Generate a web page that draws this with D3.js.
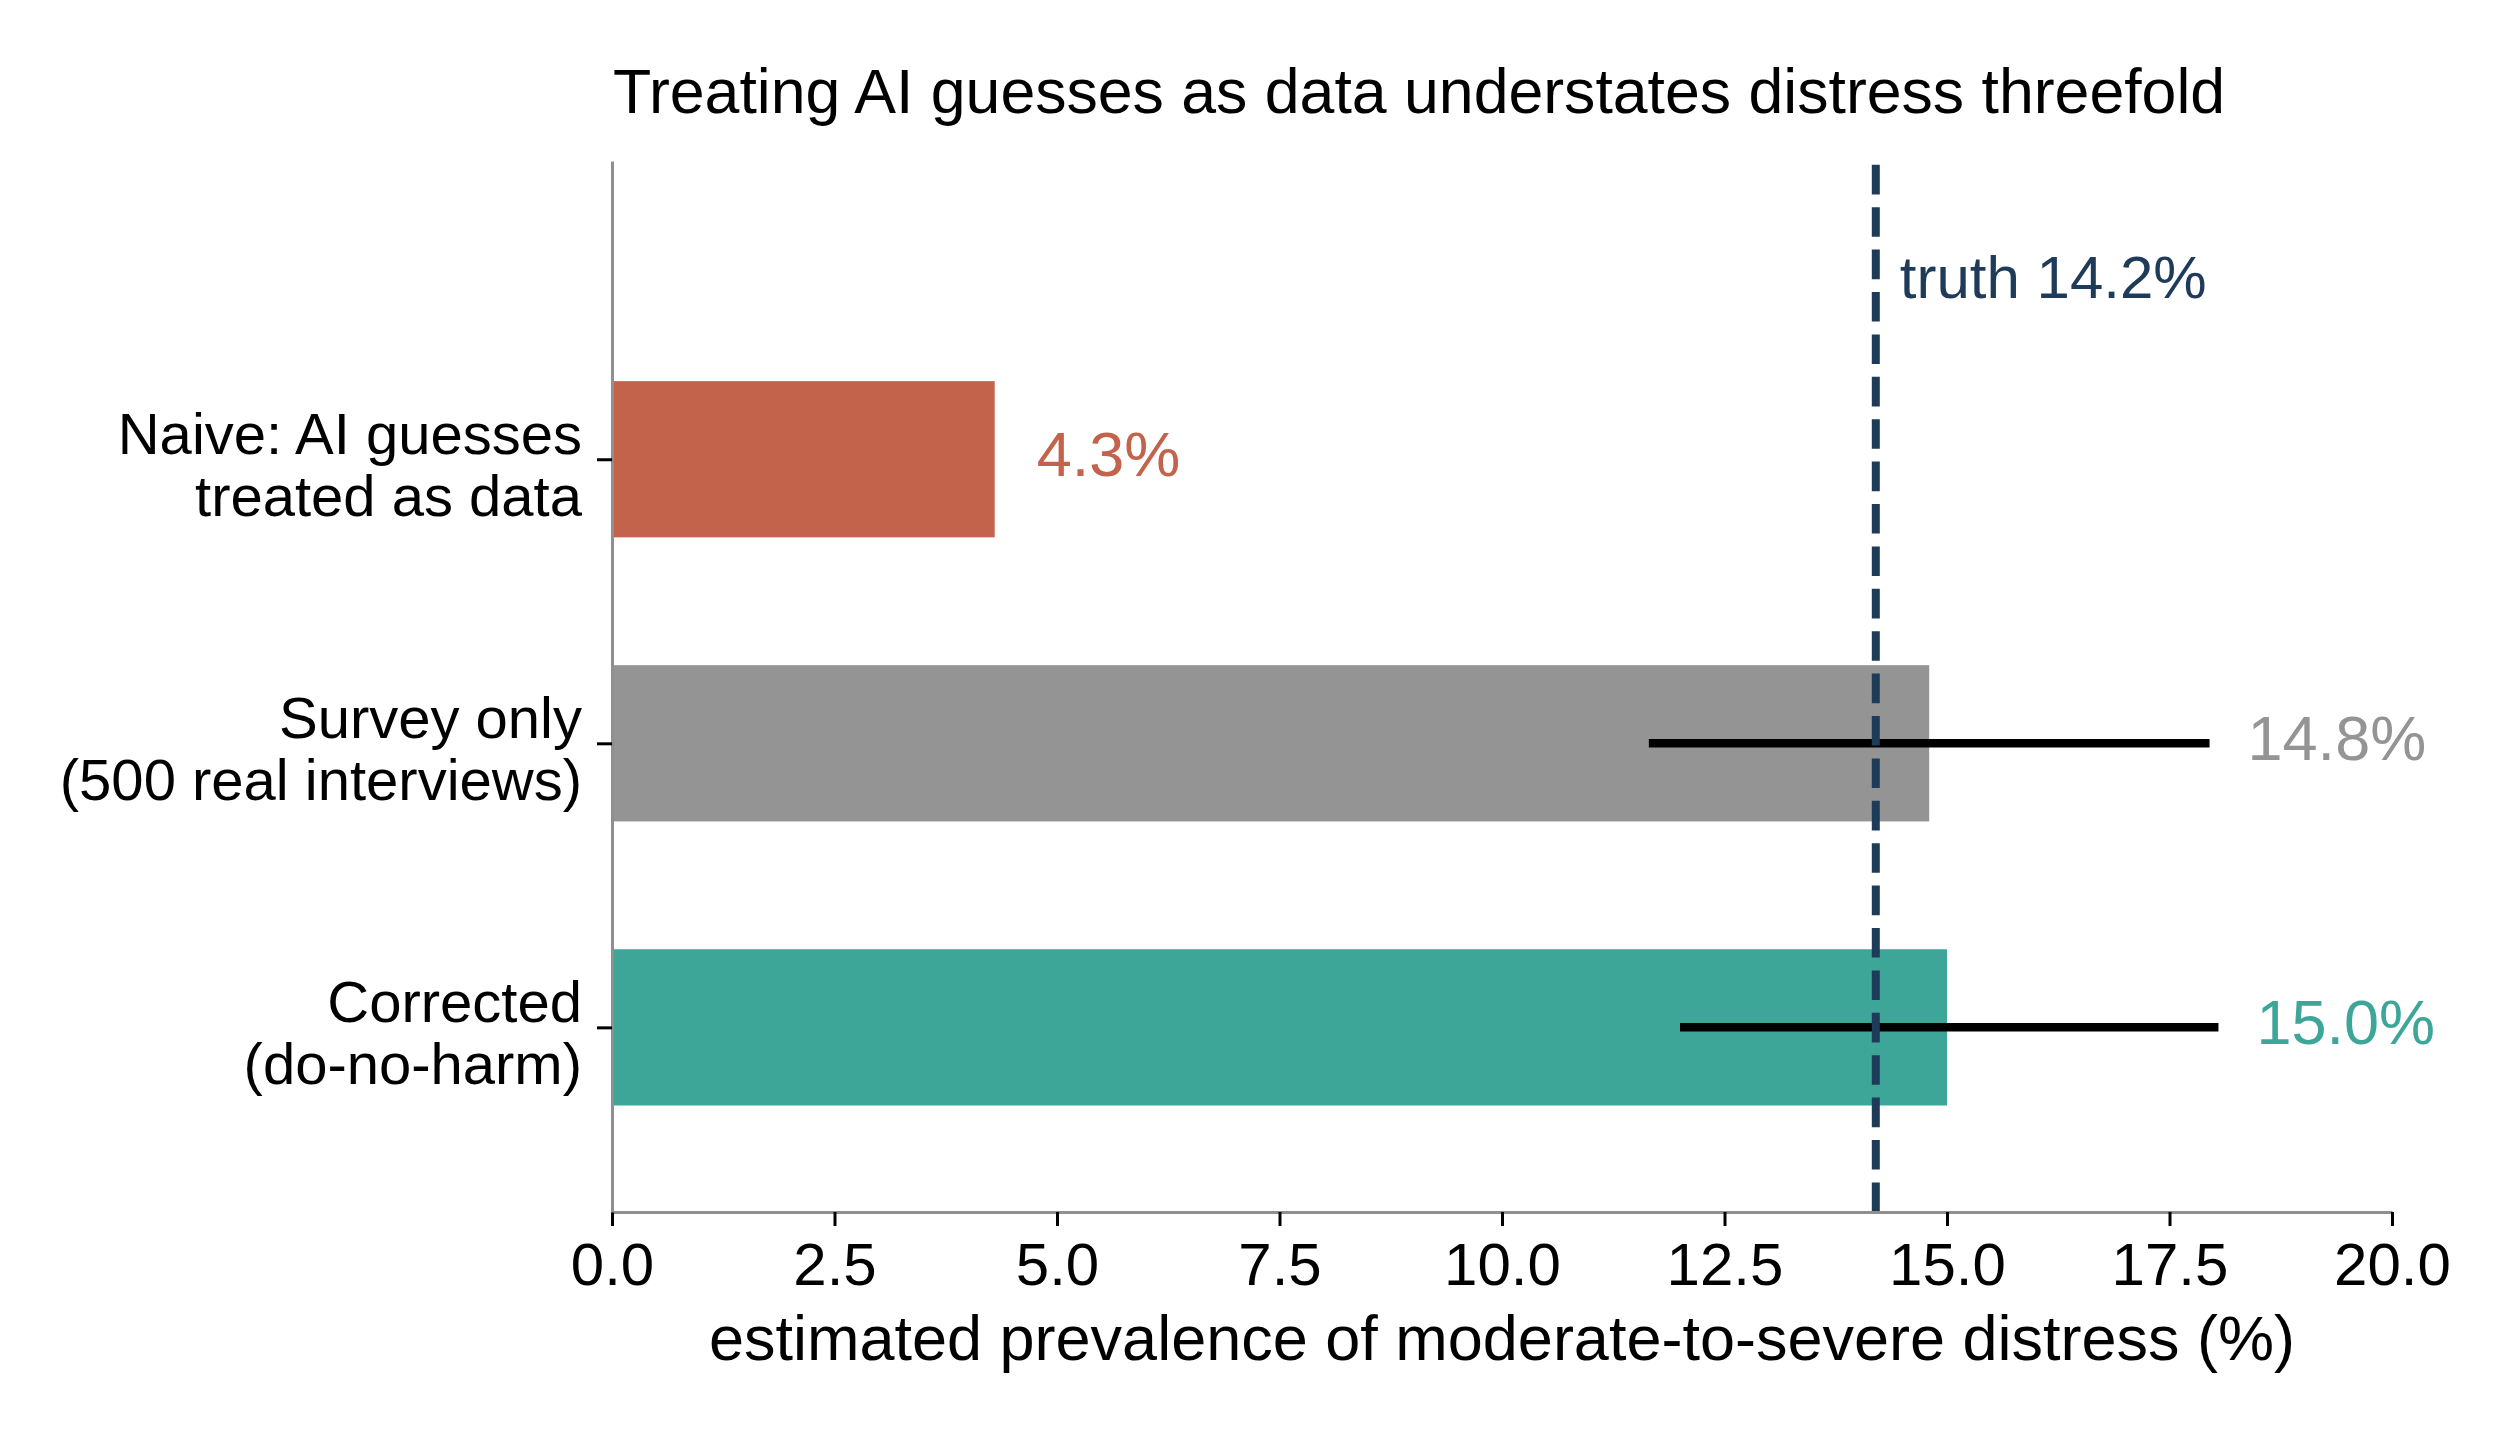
<!DOCTYPE html>
<html lang="en">
<head>
<meta charset="utf-8">
<title>Prevalence estimates</title>
<script src="https://cdn.jsdelivr.net/npm/d3@7"></script>
<style>
  body { margin: 0; background: #fff; }
  svg { display: block; font-family: "Liberation Sans", Arial, Helvetica, sans-serif; }
</style>
</head>
<body>
<div id="vis-container"></div>
<script>
// chart data
var methods = [
  ["Naive: AI guesses", "treated as data"],
  ["Survey only", "(500 real interviews)"],
  ["Corrected", "(do-no-harm)"]
];
var estimates = [4.3, 14.8, 15.0];
var ciLow = [null, 11.65, 12.0];
var ciHigh = [null, 17.95, 18.05];
var barColors = ["#c4634b", "#949494", "#3da698"];
var truth = 14.2;
var xTicks = [0, 2.5, 5, 7.5, 10, 12.5, 15, 17.5, 20];

var W = 2520, H = 1440;
// plot area edges (note: "top" is reserved on window, so use a prefix)
var plotLeft = 612, plotRight = 2392, plotTop = 161, plotBottom = 1212;
var navy = "#1f3b5a";

var svg = d3.select("#vis-container").append("svg")
  .attr("width", W).attr("height", H);

svg.append("rect").attr("width", W).attr("height", H).attr("fill", "#fff");

var x = d3.scaleLinear().domain([0, 20]).range([plotLeft, plotRight]);
// category index -> vertical position (first category on top)
var y = d3.scaleLinear().domain([-1.05, 2.65]).range([plotTop, plotBottom]);
var barH = y(0.55) - y(0);

var rows = estimates.map(function(v, i) {
  return { i: i, v: v, lo: ciLow[i], hi: ciHigh[i], color: barColors[i], label: methods[i] };
});

// bars
svg.selectAll(".bar")
  .data(rows)
  .enter().append("rect")
  .attr("class", "bar")
  .attr("x", x(0))
  .attr("y", function(d) { return y(d.i) - barH / 2; })
  .attr("width", function(d) { return x(d.v) - x(0); })
  .attr("height", barH)
  .attr("fill", function(d) { return d.color; });

// confidence intervals
svg.selectAll(".ci")
  .data(rows.filter(function(d) { return d.lo != null; }))
  .enter().append("line")
  .attr("class", "ci")
  .attr("x1", function(d) { return x(d.lo); })
  .attr("x2", function(d) { return x(d.hi); })
  .attr("y1", function(d) { return y(d.i); })
  .attr("y2", function(d) { return y(d.i); })
  .attr("stroke", "#000")
  .attr("stroke-width", 8.5);

// value labels
svg.selectAll(".val")
  .data(rows)
  .enter().append("text")
  .attr("class", "val")
  .attr("x", function(d) { return x(Math.max(d.v, d.hi == null ? d.v : d.hi)) + (d.hi == null ? 42 : 38); })
  .attr("y", function(d) { return y(d.i) + 17; })
  .attr("fill", function(d) { return d.color; })
  .style("font-size", "63px")
  .text(function(d) { return d.v.toFixed(1) + "%"; });

// truth reference line (drawn bottom-up so the dashes start at the axis)
svg.append("line")
  .attr("x1", x(truth)).attr("x2", x(truth))
  .attr("y1", plotBottom).attr("y2", plotTop)
  .attr("stroke", navy)
  .attr("stroke-width", 8)
  .attr("stroke-dasharray", "29.6,12.8");

svg.append("text")
  .attr("x", x(truth) + 24)
  .attr("y", y(-0.568))
  .attr("fill", navy)
  .style("font-size", "60px")
  .text("truth " + truth.toFixed(1) + "%");

// x axis
var xAxis = svg.append("g")
  .attr("transform", "translate(0," + plotBottom + ")")
  .call(d3.axisBottom(x).tickValues(xTicks).tickSize(14).tickSizeOuter(0)
    .tickFormat(function(d) { return d.toFixed(1); }));
xAxis.select(".domain").attr("stroke", "#8f8f8f").attr("stroke-width", 3);
xAxis.selectAll(".tick line").attr("stroke", "#000").attr("stroke-width", 3);
xAxis.selectAll(".tick text")
  .attr("y", 73).attr("dy", null)
  .attr("fill", "#000")
  .style("font-size", "60px");
xAxis.attr("font-family", null).attr("font-size", null);

// y axis
var yAxis = svg.append("g")
  .attr("transform", "translate(" + plotLeft + ",0)")
  .call(d3.axisLeft(y).tickValues([0, 1, 2]).tickSize(15).tickSizeOuter(0).tickFormat(""));
yAxis.select(".domain").attr("stroke", "#8f8f8f").attr("stroke-width", 3);
yAxis.selectAll(".tick line").attr("stroke", "#000").attr("stroke-width", 3);
yAxis.selectAll(".tick text").remove();
yAxis.attr("font-family", null).attr("font-size", null);

yAxis.selectAll(".tick").each(function(d) {
  var t = d3.select(this).append("text")
    .attr("text-anchor", "end")
    .attr("fill", "#000")
    .style("font-size", "58px");
  methods[d].forEach(function(line, k) {
    t.append("tspan").attr("x", -30).attr("y", k === 0 ? -6 : 56).text(line);
  });
});

// axis title
svg.append("text")
  .attr("x", (plotLeft + plotRight) / 2)
  .attr("y", 1360)
  .attr("text-anchor", "middle")
  .style("font-size", "63px")
  .text("estimated prevalence of moderate-to-severe distress (%)");

// chart title
svg.append("text")
  .attr("x", plotLeft + 1)
  .attr("y", 113)
  .style("font-size", "62.6px")
  .text("Treating AI guesses as data understates distress threefold");
</script>
</body>
</html>
